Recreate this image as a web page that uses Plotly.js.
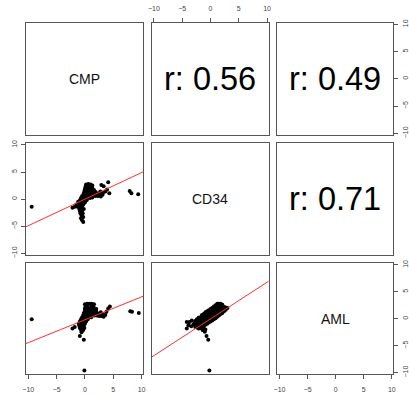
<!DOCTYPE html>
<html>
<head>
<meta charset="utf-8">
<script src="https://cdn.plot.ly/plotly-3.0.1.min.js"></script>
<style>html,body{margin:0;padding:0;background:#fff;}#plot{width:409px;height:394px;}</style>
</head>
<body>
<div id="plot"></div>
<script>
// ---- data ----
const varNames = ["CMP", "CD34", "AML"];
const rValues = ["0.56", "0.49", "0.71"];   // upper panels: CMP-CD34, CMP-AML, CD34-AML
const tickVals = [-10, -5, 0, 5, 10];
const tickText = ["\u221210", "\u22125", "0", "5", "10"];

// fitted lines (intercept, slope)
const fitIntercept = [0.0, -0.18, -0.02];   // CD34~CMP, AML~CMP, AML~CD34
const fitSlope = [0.49, 0.425, 0.68];

// x = CMP, y = CD34
const cmpCd34 = [
 [0.2,2.7],[0.6,2.8],[1.0,2.7],[1.3,2.5],[0.1,2.3],[0.5,2.3],[0.9,2.3],[1.3,2.1],
 [0.0,1.9],[0.4,1.9],[0.8,1.9],[1.2,1.8],[1.6,1.7],[-0.1,1.5],[0.3,1.5],[0.7,1.5],
 [1.1,1.4],[1.5,1.4],[1.9,1.3],[-0.2,1.1],[0.2,1.1],[0.6,1.1],[1.0,1.0],[1.4,1.0],
 [1.8,1.0],[2.2,1.0],[2.6,0.9],[-0.5,0.6],[-0.1,0.7],[0.3,0.7],[0.7,0.6],[1.1,0.6],
 [1.5,0.6],[1.9,0.6],[2.3,0.6],[2.8,0.5],[3.1,0.8],[-0.7,0.2],[-0.3,0.3],[0.1,0.3],
 [0.5,0.2],[0.9,0.2],[1.3,0.3],[-0.9,-0.2],[-0.5,-0.1],[-0.1,-0.1],[0.3,-0.2],
 [-1.2,-0.5],[-0.8,-0.6],[-0.4,-0.5],[0.0,-0.6],[-1.5,-1.0],[-1.1,-1.0],[-0.7,-1.0],
 [-0.3,-1.0],[-1.8,-1.4],[-1.3,-1.4],[-0.9,-1.4],[-0.5,-1.4],[-2.2,-1.6],[-1.0,-1.8],
 [-0.6,-1.8],[-0.2,-1.8],[-0.9,-2.2],[-0.5,-2.2],[-0.8,-2.6],[-0.4,-2.6],[-0.6,-3.0],
 [-0.3,-3.3],[-0.7,-3.5],[-0.5,-3.9],[-0.3,-4.2],
 [2.9,2.6],[3.3,2.4],[4.1,3.1],[3.6,1.4],[4.3,1.1],[3.9,1.8],[3.2,1.2],[2.7,1.4],
 [-9.4,-1.4],[7.9,1.5],[8.2,1.1],[9.4,0.9]
];

// x = CMP, y = AML
const cmpAml = [
 [0.0,2.7],[0.4,2.8],[0.8,2.8],[1.2,2.8],[1.6,2.7],[0.1,2.3],[0.4,2.3],[1.1,2.3],[1.5,2.3],
 [0.0,1.9],[0.4,1.9],[0.8,1.9],[1.2,1.9],[1.6,1.9],[2.0,1.8],
 [0.0,1.5],[0.4,1.5],[0.8,1.5],[1.2,1.5],[1.6,1.5],[2.0,1.4],
 [-0.2,1.1],[0.2,1.1],[0.6,1.1],[1.0,1.1],[1.4,1.1],[1.8,1.0],[2.2,1.0],[2.6,0.9],
 [-0.3,0.7],[0.1,0.7],[0.5,0.7],[0.9,0.7],[1.3,0.7],[1.7,0.6],[2.1,0.6],[2.5,0.5],[2.9,0.5],[3.3,0.4],
 [-0.5,0.3],[-0.1,0.3],[0.3,0.3],[0.7,0.3],[1.1,0.3],
 [-0.7,-0.1],[-0.3,-0.1],[0.1,-0.1],[0.5,-0.1],
 [-0.9,-0.5],[-0.5,-0.5],[-0.1,-0.5],[0.2,-0.5],
 [-1.1,-0.9],[-0.7,-0.9],[-0.3,-0.9],[0.0,-0.9],
 [-1.0,-1.3],[-0.6,-1.3],[-0.2,-1.3],
 [-1.8,-1.5],[-2.2,-1.8],[-0.9,-1.7],[-0.5,-1.7],[-0.1,-1.7],
 [-0.7,-2.1],[-0.3,-2.1],[-0.6,-2.5],[-0.9,-3.2],[-0.2,-3.9],
 [3.2,0.9],[3.8,1.3],[4.1,1.9],[4.4,2.3],[3.6,0.7],[2.8,1.2],
 [-9.4,-0.1],[8.0,1.4],[8.3,1.3],[9.5,1.1],[-0.1,-9.6]
];

// x = CD34, y = AML
const cd34Aml = [
 [-2.7,-1.5],[-2.7,-1.1],[-2.7,-0.7],[-2.7,-0.4],
 [-2.4,-1.6],[-2.4,-1.2],[-2.4,-0.8],[-2.4,-0.4],[-2.4,-0.1],
 [-2.1,-1.8],[-2.1,-1.4],[-2.1,-1.0],[-2.1,-0.6],[-2.1,-0.2],[-2.1,0.2],
 [-1.8,-1.7],[-1.8,-1.3],[-1.8,-0.9],[-1.8,-0.5],[-1.8,-0.1],[-1.8,0.3],
 [-1.5,-1.5],[-1.5,-1.1],[-1.5,-0.7],[-1.5,-0.3],[-1.5,0.1],[-1.5,0.5],[-1.5,0.7],
 [-1.2,-1.3],[-1.2,-0.9],[-1.2,-0.5],[-1.2,-0.1],[-1.2,0.3],[-1.2,0.7],[-1.2,0.9],
 [-0.9,-1.1],[-0.9,-0.7],[-0.9,-0.3],[-0.9,0.1],[-0.9,0.5],[-0.9,0.9],[-0.9,1.2],
 [-0.6,-0.9],[-0.6,-0.5],[-0.6,-0.1],[-0.6,0.3],[-0.6,0.7],[-0.6,1.1],[-0.6,1.4],
 [-0.3,-0.7],[-0.3,-0.3],[-0.3,0.1],[-0.3,0.5],[-0.3,0.9],[-0.3,1.3],[-0.3,1.6],
 [0.0,-0.5],[0.0,-0.1],[0.0,0.3],[0.0,0.7],[0.0,1.1],[0.0,1.5],[0.0,1.8],
 [0.3,-0.3],[0.3,0.1],[0.3,0.5],[0.3,0.9],[0.3,1.3],[0.3,1.7],[0.3,2.0],
 [0.6,-0.1],[0.6,0.3],[0.6,0.7],[0.6,1.1],[0.6,1.5],[0.6,1.9],[0.6,2.3],
 [0.9,0.1],[0.9,0.5],[0.9,0.9],[0.9,1.3],[0.9,1.7],[0.9,2.1],[0.9,2.5],
 [1.2,0.4],[1.2,0.8],[1.2,1.2],[1.2,1.6],[1.2,2.0],[1.2,2.4],[1.2,2.8],
 [1.5,0.6],[1.5,1.0],[1.5,1.4],[1.5,1.8],[1.5,2.2],[1.5,2.6],[1.5,2.8],
 [1.8,0.9],[1.8,1.3],[1.8,1.7],[1.8,2.1],[1.8,2.5],[1.8,2.8],
 [2.1,1.1],[2.1,1.5],[2.1,1.9],[2.1,2.3],[2.1,2.6],
 [2.4,1.4],[2.4,1.8],[2.4,2.2],[2.7,1.7],[2.7,2.1],[3.0,2.0],
 [-1.2,-1.7],[-0.9,-2.0],[-1.4,-2.1],[-1.0,-2.4],[-0.7,-3.2],[-0.4,-3.9],
 [-4.2,-0.6],[-3.7,-0.6],[-4.2,-1.8],[-3.9,-1.2],[-3.4,-1.4],[-3.3,-0.3],[-3.0,-1.0],
 [-0.2,-9.6]
];

// ---- layout helpers ----
const xRange = [-10.4, 10.3];
const yRange = [-10.3, 10.3];
const colDom = [[0.0636, 0.3504], [0.3709, 0.6570], [0.6780, 0.9621]];
const rowDom = [[0.6574, 0.9424], [0.3528, 0.6363], [0.0500, 0.3317]];
const frameColor = "#555";
const fontFam = "Liberation Sans, Arial, sans-serif";
const tickFont = {family: fontFam, size: 7, color: "#444"};

const layout = {
  width: 409, height: 394, autosize: false,
  margin: {l: 0, r: 0, t: 0, b: 0, pad: 0},
  paper_bgcolor: "#fff", plot_bgcolor: "#fff",
  showlegend: false,
  annotations: [],
  font: {family: fontFam}
};

// which axes get ticks
const xTickPanels = {"0,1": "top", "2,0": "bottom", "2,2": "bottom"};
const yTickPanels = {"1,0": "left", "0,2": "right", "2,2": "right"};

function sfx(r, c) { const k = r * 3 + c + 1; return k === 1 ? "" : String(k); }

const traces = [];
for (let r = 0; r < 3; r++) {
  for (let c = 0; c < 3; c++) {
    const s = sfx(r, c);
    const xs = xTickPanels[r + "," + c];
    const ys = yTickPanels[r + "," + c];
    layout["xaxis" + s] = {
      domain: colDom[c], range: xRange, anchor: "y" + s,
      showgrid: false, zeroline: false, showline: true, mirror: true,
      linecolor: frameColor, linewidth: 1,
      side: xs || "bottom",
      ticks: xs ? "outside" : "", ticklen: 4, tickcolor: frameColor, tickwidth: 1,
      showticklabels: !!xs, tickvals: tickVals, ticktext: tickText,
      ticklabelstandoff: 4,
      tickfont: tickFont, fixedrange: true
    };
    layout["yaxis" + s] = {
      domain: rowDom[r], range: yRange, anchor: "x" + s,
      showgrid: false, zeroline: false, showline: true, mirror: true,
      linecolor: frameColor, linewidth: 1,
      side: ys || "left",
      ticks: ys ? "outside" : "", ticklen: 4, tickcolor: frameColor, tickwidth: 1,
      showticklabels: !!ys, tickvals: tickVals, ticktext: tickText, tickangle: -90,
      ticklabelstandoff: 1,
      tickfont: tickFont, fixedrange: true
    };
    // empty trace so every panel's subplot (frame/axes) is created
    traces.push({type: "scatter", mode: "markers", x: [], y: [],
                 xaxis: "x" + s, yaxis: "y" + s, hoverinfo: "skip"});
  }
}

// diagonal labels
for (let i = 0; i < 3; i++) {
  const s = sfx(i, i);
  layout.annotations.push({
    xref: "x" + s + " domain", yref: "y" + s + " domain", x: 0.5, y: 0.5,
    text: varNames[i], showarrow: false, xanchor: "center", yanchor: "middle",
    font: {family: fontFam, size: 14, color: "#111"}
  });
}
// correlation labels in upper panels
const upper = [[0, 1], [0, 2], [1, 2]];
upper.forEach((rc, i) => {
  const s = sfx(rc[0], rc[1]);
  layout.annotations.push({
    xref: "x" + s + " domain", yref: "y" + s + " domain", x: 0.5, y: 0.5,
    text: "r: " + rValues[i], showarrow: false, xanchor: "center", yanchor: "middle",
    font: {family: fontFam, size: 32.5, color: "#000"}
  });
});

// scatter panels (lower triangle)
const lower = [
  {r: 1, c: 0, pts: cmpCd34, fit: 0},
  {r: 2, c: 0, pts: cmpAml, fit: 1},
  {r: 2, c: 1, pts: cd34Aml, fit: 2}
];
lower.forEach(p => {
  const s = sfx(p.r, p.c);
  const a = fitIntercept[p.fit], b = fitSlope[p.fit];
  traces.push({
    type: "scatter", mode: "markers", xaxis: "x" + s, yaxis: "y" + s,
    x: p.pts.map(d => d[0]), y: p.pts.map(d => d[1]),
    marker: {color: "#000", size: 4, line: {width: 0}},
    hoverinfo: "skip"
  });
  traces.push({
    type: "scatter", mode: "lines", xaxis: "x" + s, yaxis: "y" + s,
    x: xRange, y: xRange.map(v => a + b * v),
    line: {color: "#ff3030", width: 1}, hoverinfo: "skip"
  });
});

Plotly.newPlot("plot", traces, layout, {displayModeBar: false, staticPlot: true});
</script>
</body>
</html>
